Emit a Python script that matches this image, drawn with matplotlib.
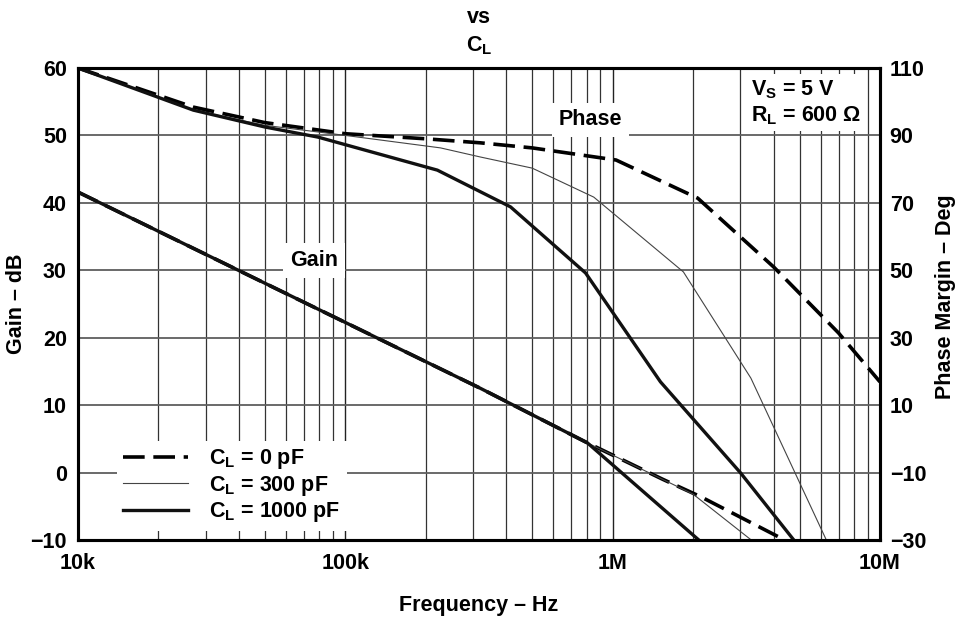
import matplotlib
matplotlib.use("Agg")
import matplotlib.pyplot as plt
from matplotlib.ticker import FixedLocator, NullFormatter, FixedFormatter, LogLocator

plt.rcParams["font.family"] = ["Liberation Sans", "DejaVu Sans"]
plt.rcParams["font.weight"] = "bold"
plt.rcParams["axes.labelweight"] = "bold"
plt.rcParams["mathtext.fontset"] = "custom"
plt.rcParams["mathtext.rm"] = "Liberation Sans:bold"
plt.rcParams["mathtext.bf"] = "Liberation Sans:bold"
plt.rcParams["mathtext.it"] = "Liberation Sans:bold"

# Gain (dB) curves
gain_0pf_freq = [1e4, 3.2e5, 8.05e5, 1.54e6, 2.14e6, 4.4e6]
gain_0pf = [41.6, 12.5, 4.4, -1.0, -3.6, -10]
gain_300pf_freq = [1e4, 3.2e5, 8.05e5, 2.0e6, 3.3e6]
gain_300pf = [41.6, 12.5, 4.4, -3.2, -10]
gain_1000pf_freq = [1e4, 3.2e5, 8.05e5, 2.1e6]
gain_1000pf = [41.6, 12.5, 4.4, -10]

# Phase margin (deg) curves
phase_0pf_freq = [1e4, 2.7e4, 5e4, 1e5, 2e5, 3.2e5, 5e5, 1.03e6, 2.08e6, 4e6, 7e6, 1e7]
phase_0pf = [110, 98.4, 93.8, 90.5, 89.0, 87.8, 86.3, 82.7, 71.4, 51, 31.4, 16.9]
phase_300pf_freq = [1e4, 2.7e4, 5e4, 1e5, 2.27e5, 3.2e5, 5e5, 8.5e5, 1.84e6, 3.29e6, 6.3e6]
phase_300pf = [110, 97.5, 93.0, 90.0, 86.3, 83.6, 80.3, 71.7, 49.5, 18, -30]
phase_1000pf_freq = [1e4, 2.7e4, 5e4, 7.9e4, 2.21e5, 4.15e5, 7.92e5, 1.51e6, 3.01e6, 4.76e6]
phase_1000pf = [110, 97.5, 92.5, 89.5, 79.7, 68.8, 49.2, 16.9, -10.1, -30]

x_ticks = [1e4, 1e5, 1e6, 1e7]
x_tick_labels = ["10k", "100k", "1M", "10M"]
gain_ticks = [-10, 0, 10, 20, 30, 40, 50, 60]
gain_labels = ["\u221210", "0", "10", "20", "30", "40", "50", "60"]
phase_ticks = [-30, -10, 10, 30, 50, 70, 90, 110]
phase_labels = ["\u221230", "\u221210", "10", "30", "50", "70", "90", "110"]

fs = 15.5
dash = (0, (6, 2.4))
dash_lw = 2.6
thick = 2.4
thin = 0.8

fig = plt.figure(figsize=(9.59, 6.18), dpi=100)
ax = fig.add_axes([0.0813, 0.1262, 0.9176 - 0.0813, 0.890 - 0.1262])
ax2 = ax.twinx()

ax.set_xscale("log")
ax.set_xlim(1e4, 1e7)
ax.set_ylim(-10, 60)
ax2.set_ylim(-30, 110)

# grid
ax.xaxis.set_major_locator(FixedLocator(x_ticks))
ax.xaxis.set_major_formatter(FixedFormatter(x_tick_labels))
ax.xaxis.set_minor_locator(LogLocator(base=10, subs=range(2, 10)))
ax.xaxis.set_minor_formatter(NullFormatter())
ax.grid(True, which="major", axis="x", color="#222222", lw=1.0)
ax.grid(True, which="minor", axis="x", color="#333333", lw=0.9)
ax.grid(True, which="major", axis="y", color="#5e5e5e", lw=1.3)
ax.set_yticks(gain_ticks)
ax.set_yticklabels(gain_labels)
ax2.set_yticks(phase_ticks)
ax2.set_yticklabels(phase_labels)

for a in (ax, ax2):
    a.tick_params(which="both", length=0, labelsize=fs)
    for s in a.spines.values():
        s.set_linewidth(2.2)
        s.set_color("black")
ax.tick_params(axis="x", pad=9)
ax.tick_params(axis="y", pad=8)
ax2.tick_params(axis="y", pad=7)

# gain lines
ax.plot(gain_0pf_freq, gain_0pf, color="black", lw=dash_lw, linestyle=dash)
ax.plot(gain_300pf_freq, gain_300pf, color="#444444", lw=thin)
ax.plot(gain_1000pf_freq, gain_1000pf, color="#111111", lw=thick)

# phase lines
l0, = ax2.plot(phase_0pf_freq, phase_0pf, color="black", lw=dash_lw, linestyle=dash)
l1, = ax2.plot(phase_300pf_freq, phase_300pf, color="#444444", lw=thin)
l2, = ax2.plot(phase_1000pf_freq, phase_1000pf, color="#111111", lw=thick)

box = dict(facecolor="white", edgecolor="none", pad=5)
ax2.text(6.2e4, 53, "Gain", fontsize=fs, ha="left", va="center", bbox=box)
ax2.text(6.3e5, 94.6, "Phase", fontsize=fs, ha="left", va="center", bbox=box)
ax2.text(3.3e6, 107, "V$_\\mathrm{S}$ = 5 V\nR$_\\mathrm{L}$ = 600 \u03a9",
         fontsize=fs, ha="left", va="top", linespacing=1.22,
         bbox=dict(facecolor="white", edgecolor="none", pad=3))

leg = ax2.legend([l0, l1, l2],
                 ["C$_\\mathrm{L}$ = 0 pF", "C$_\\mathrm{L}$ = 300 pF",
                  "C$_\\mathrm{L}$ = 1000 pF"],
                 loc="lower left", bbox_to_anchor=(0.04, 0.006), fontsize=fs,
                 frameon=True, fancybox=False, framealpha=1, edgecolor="none",
                 handlelength=3.0, handletextpad=1.0, labelspacing=0.12,
                 borderpad=0.3, borderaxespad=0.3)

ax.set_xlabel("Frequency \u2013 Hz", fontsize=fs)
ax.set_ylabel("Gain \u2013 dB", fontsize=fs)
ax2.set_ylabel("Phase Margin \u2013 Deg", fontsize=fs)
ax.xaxis.set_label_coords(0.5, -0.1165)
ax.yaxis.set_label_coords(-0.0636, 0.5)
ax2.yaxis.set_label_coords(1.0686, 0.515)

fig.text(0.4995, 0.972, "vs", fontsize=fs, ha="center", va="center")
fig.text(0.4995, 0.926, "C$_\\mathrm{L}$", fontsize=fs, ha="center", va="center")

fig.savefig("out.png", dpi=100)
